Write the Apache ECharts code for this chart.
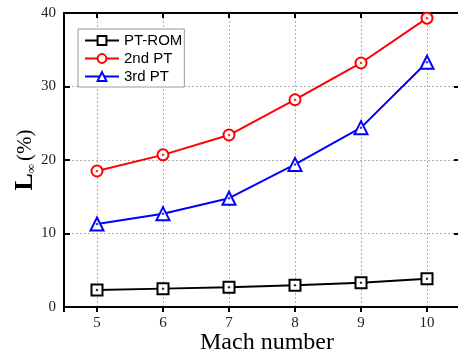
<!DOCTYPE html>
<html>
<head>
<meta charset="utf-8">
<script src="https://cdn.jsdelivr.net/npm/echarts@6/dist/echarts.min.js"></script>
<style>
  html, body { margin: 0; padding: 0; background: #fff; }
  #chart { width: 458px; height: 356px; }
</style>
</head>
<body>
<div id="chart"></div>
<script>
const machNumbers = [5, 6, 7, 8, 9, 10]
const ptRom = [2.3, 2.5, 2.7, 2.95, 3.3, 3.85]
const pt2nd = [18.5, 20.7, 23.4, 28.2, 33.2, 39.3]
const pt3rd = [11.3, 12.7, 14.8, 19.4, 24.4, 33.3]
const yTicks = [0, 10, 20, 30, 40]

const chart = echarts.init(document.getElementById('chart'))

const serif = 'Liberation Serif'
const gridDots = { show: true, lineStyle: { color: '#b0b0b0', type: [2, 2], width: 1 } }

const mkSeries = (name, data, symbol, color) => ({
  name: name,
  type: 'line',
  data: machNumbers.map((m, i) => [m, data[i]]),
  symbol: symbol,
  symbolSize: symbol === 'triangle' ? 13 : 11,
  showAllSymbol: true,
  lineStyle: { color: color, width: 2 },
  itemStyle: { color: '#fff', borderColor: color, borderWidth: 2 },
  z: 5
})

// small dot in the middle of each hollow marker
const mkDots = (data, color) => ({
  type: 'scatter',
  data: machNumbers.map((m, i) => [m, data[i]]),
  symbol: 'circle',
  symbolSize: 2.5,
  itemStyle: { color: color },
  silent: true,
  z: 6
})

const option = {
  animation: false,
  grid: { left: 64, right: -2, top: 13, bottom: 49, containLabel: false, outerBoundsMode: 'none' },
  legend: {
    left: 78,
    top: 29,
    orient: 'vertical',
    itemWidth: 34,
    itemHeight: 11,
    itemGap: 3,
    padding: [4, 2, 3, 6],
    borderColor: '#999',
    borderWidth: 1,
    backgroundColor: '#fff',
    textStyle: { fontFamily: 'Liberation Sans', fontSize: 15, color: '#000' },
    data: ['PT-ROM', '2nd PT', '3rd PT']
  },
  xAxis: [
    {
      type: 'value',
      min: 4.5,
      max: 10.5,
      splitNumber: 6,
      name: 'Mach number',
      nameLocation: 'middle',
      nameGap: 24,
      nameMoveOverlap: false,
      nameTextStyle: { fontFamily: serif, fontSize: 24, color: '#000', padding: [0, 0, 0, 10] },
      axisLine: { show: true, lineStyle: { color: '#000', width: 2 } },
      axisTick: { show: true, inside: false, length: 5, lineStyle: { color: '#000', width: 2 } },
      axisLabel: {
        fontFamily: serif, fontSize: 15, color: '#222', margin: 9,
        formatter: v => (Number.isInteger(v) ? String(v) : '')
      },
      splitLine: gridDots
    },
    {
      type: 'value',
      position: 'top',
      min: 4.5,
      max: 10.5,
      splitNumber: 6,
      axisLine: { show: true, onZero: false, lineStyle: { color: '#000', width: 2 } },
      axisTick: { show: true, inside: true, length: 5, lineStyle: { color: '#000', width: 2 } },
      axisLabel: { show: false },
      splitLine: { show: false }
    }
  ],
  yAxis: [
    {
      type: 'value',
      min: yTicks[0],
      max: yTicks[yTicks.length - 1],
      interval: 10,
      name: '{l|L}{s|∞}{p|(%)}',
      nameLocation: 'middle',
      nameGap: 26,
      nameMoveOverlap: false,
      nameRotate: 90,
      nameTextStyle: {
        color: '#000',
        rich: {
          l: { fontFamily: serif, fontSize: 26, fontWeight: 'bold', color: '#000' },
          s: { fontFamily: serif, fontSize: 13, color: '#000', verticalAlign: 'bottom', padding: [12, 3, 0, 0] },
          p: { fontFamily: serif, fontSize: 21, color: '#000' }
        }
      },
      axisLine: { show: true, onZero: false, lineStyle: { color: '#000', width: 2 } },
      axisTick: { show: true, inside: true, length: 6, lineStyle: { color: '#000', width: 2 } },
      axisLabel: { fontFamily: serif, fontSize: 15, color: '#222', margin: 8 },
      splitLine: gridDots
    },
    {
      type: 'value',
      position: 'right',
      min: yTicks[0],
      max: yTicks[yTicks.length - 1],
      interval: 10,
      axisLine: { show: true, onZero: false, lineStyle: { color: '#000', width: 2 } },
      axisTick: { show: true, inside: true, length: 6, lineStyle: { color: '#000', width: 2 } },
      axisLabel: { show: false },
      splitLine: { show: false }
    }
  ],
  series: [
    mkSeries('PT-ROM', ptRom, 'rect', '#000'),
    mkSeries('2nd PT', pt2nd, 'circle', '#ff0000'),
    mkSeries('3rd PT', pt3rd, 'triangle', '#0000ff'),
    mkDots(ptRom, '#000'),
    mkDots(pt2nd, '#ff0000'),
    mkDots(pt3rd, '#0000ff')
  ]
}

chart.setOption(option)
</script>
</body>
</html>
